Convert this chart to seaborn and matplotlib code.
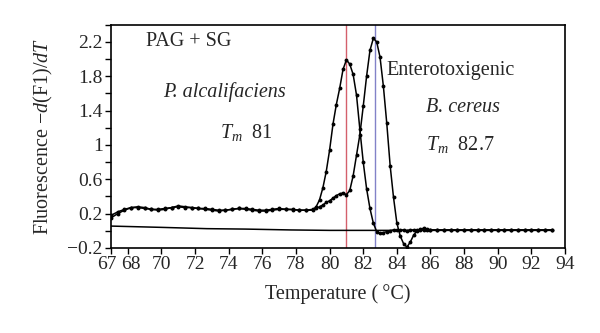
import numpy as np
import pandas as pd
import matplotlib
matplotlib.use("Agg")
import matplotlib.pyplot as plt
import matplotlib.transforms as mtransforms
import seaborn as sns

# ---------------- data ----------------
temps = [67.0, 67.4, 67.8, 68.2, 68.6, 69.0, 69.4, 69.8, 70.2, 70.6,
         71.0, 71.4, 71.8, 72.2, 72.6, 73.0, 73.4, 73.8, 74.2, 74.6,
         75.0, 75.4, 75.8, 76.2, 76.6, 77.0, 77.4, 77.8, 78.2, 78.6,
         79.0, 79.2, 79.4, 79.6, 79.8, 80.0, 80.2, 80.4, 80.6, 80.8,
         81.0, 81.2, 81.4, 81.6, 81.8, 82.0, 82.2, 82.4, 82.6, 82.8,
         83.0, 83.2, 83.4, 83.6, 83.8, 84.0, 84.2, 84.4, 84.6, 84.8,
         85.0, 85.2, 85.4, 85.6, 85.8, 86.0,
         86.4, 86.8, 87.2, 87.6, 88.0, 88.4, 88.8, 89.2, 89.6, 90.0,
         90.4, 90.8, 91.2, 91.6, 92.0, 92.4, 92.8, 93.2]

p_alcalifaciens = [0.15, 0.20, 0.24, 0.27, 0.28, 0.27, 0.25, 0.24, 0.25, 0.27,
                   0.28, 0.27, 0.27, 0.26, 0.25, 0.24, 0.23, 0.24, 0.25, 0.26,
                   0.25, 0.24, 0.23, 0.23, 0.24, 0.25, 0.25, 0.245, 0.24, 0.24,
                   0.24, 0.28, 0.36, 0.50, 0.69, 0.94, 1.24, 1.47, 1.66, 1.88,
                   1.99, 1.94, 1.82, 1.58, 1.18, 0.80, 0.49, 0.26, 0.09, -0.01,
                   -0.03, -0.02, -0.01, 0.00, 0.01, 0.01, 0.01, 0.01, 0.00, 0.01,
                   0.01, 0.01, 0.01, 0.01, 0.01, 0.01,
                   0.01, 0.01, 0.01, 0.01, 0.01, 0.01, 0.01, 0.01, 0.01, 0.01,
                   0.01, 0.01, 0.01, 0.01, 0.01, 0.01, 0.01, 0.01]

b_cereus = [0.18, 0.22, 0.25, 0.27, 0.27, 0.26, 0.25, 0.25, 0.26, 0.27,
            0.29, 0.28, 0.27, 0.26, 0.26, 0.25, 0.24, 0.24, 0.25, 0.26,
            0.26, 0.25, 0.24, 0.24, 0.25, 0.26, 0.25, 0.25, 0.24, 0.24,
            0.25, 0.26, 0.28, 0.30, 0.33, 0.35, 0.38, 0.41, 0.43, 0.44,
            0.42, 0.47, 0.64, 0.88, 1.12, 1.45, 1.80, 2.10, 2.24, 2.20,
            2.02, 1.68, 1.25, 0.76, 0.39, 0.09, -0.06, -0.15, -0.19, -0.13,
            -0.05, 0.00, 0.02, 0.03, 0.02, 0.01,
            0.01, 0.01, 0.01, 0.01, 0.01, 0.01, 0.01, 0.01, 0.01, 0.01,
            0.01, 0.01, 0.01, 0.01, 0.01, 0.01, 0.01, 0.01]

control_temps = [67.0, 70.0, 72.7, 75.0, 77.7, 80.0, 85.0, 93.2]
control_vals = [0.055, 0.04, 0.025, 0.02, 0.01, 0.005, 0.005, 0.005]

tm_values = [81.0, 82.7]
tm_colors = ["#d4606c", "#8282c8"]

x_ticks = [67, 68, 70, 72, 74, 76, 78, 80, 82, 84, 86, 88, 90, 92, 94]
y_major = [-0.2, 0.2, 0.6, 1.0, 1.4, 1.8, 2.2]
y_major_labels = ["\u22120.2", "0.2", "0.6", "1", "1.4", "1.8", "2.2"]

# ---------------- style ----------------
sns.set_theme(style="ticks")
plt.rcParams["font.family"] = ["Liberation Serif", "DejaVu Serif"]
plt.rcParams["mathtext.fontset"] = "custom"
plt.rcParams["mathtext.rm"] = "Liberation Serif"
plt.rcParams["mathtext.it"] = "Liberation Serif:italic"
plt.rcParams["axes.unicode_minus"] = True

fig = plt.figure(figsize=(6.0, 3.33), dpi=100)
ax = fig.add_axes([0.185, 0.2553, 0.7567, 0.6707])

df_p = pd.DataFrame({"T": temps, "v": p_alcalifaciens})
df_b = pd.DataFrame({"T": temps, "v": b_cereus})
df_c = pd.DataFrame({"T": control_temps, "v": control_vals})

sns.lineplot(data=df_c, x="T", y="v", ax=ax, color="black", lw=1.1,
             estimator=None, sort=False)
for d in (df_p, df_b):
    sns.lineplot(data=d, x="T", y="v", ax=ax, color="black", lw=1.1,
                 marker="o", markersize=2.8, markeredgewidth=0,
                 estimator=None, sort=False)

for tm, col in zip(tm_values, tm_colors):
    ax.axvline(tm, color=col, lw=1.0, zorder=0)

ax.set_xlim(67, 94)
ax.set_ylim(-0.2, 2.4)
ax.set_xticks(x_ticks)
ax.set_xticklabels([str(t) for t in x_ticks])
ax.set_yticks(y_major)
ax.set_yticklabels(y_major_labels)
ax.set_yticks(np.round(np.arange(-0.2, 2.41, 0.2), 1), minor=True)
ax.tick_params(axis="both", which="major", labelsize=14, length=4,
               width=1, direction="out", color="black", pad=2)
ax.tick_params(axis="y", which="minor", length=4, width=1, color="black")
for s in ax.spines.values():
    s.set_visible(True)
    s.set_color("black")
    s.set_linewidth(1.2)

# nudge the crowded 67 / 68 labels apart slightly
xlabels = ax.get_xticklabels()
for lab, dx in ((xlabels[0], -4), (xlabels[1], 3)):
    lab.set_transform(lab.get_transform() +
                      mtransforms.ScaledTranslation(dx / 100, 0, fig.dpi_scale_trans))

ax.set_xlabel("Temperature (\u2009\u00b0C)", fontsize=14.5, labelpad=8)
ax.set_ylabel(r"Fluorescence $-d$(F1)/$dT$", fontsize=14.5, labelpad=9)

fs = 14.5
ax.text(69.1, 2.2, "PAG + SG", fontsize=fs, va="center", ha="left")
ax.text(70.1, 1.62, "P. alcalifaciens", fontsize=fs, va="center", ha="left",
        style="italic")
ax.text(73.5, 1.14, r"$T_m$  81", fontsize=fs, va="center", ha="left")
ax.text(83.4, 1.87, "Enterotoxigenic", fontsize=fs, va="center", ha="left")
ax.text(85.75, 1.43, "B. cereus", fontsize=fs, va="center", ha="left",
        style="italic")
ax.text(85.75, 1.0, r"$T_m$  82.7", fontsize=fs, va="center", ha="left")

fig.savefig("out.png", dpi=100)
